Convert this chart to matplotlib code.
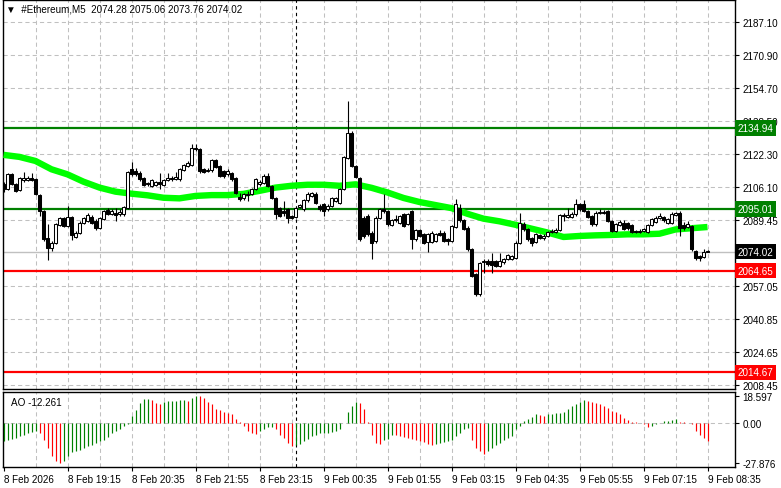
import matplotlib.pyplot as plt
import numpy as np
from matplotlib.transforms import blended_transform_factory

# M5 candles, 8 Feb 17:55 -> 9 Feb 08:35
opens = [2107.5, 2104.7, 2112.1, 2107.5, 2104.4, 2109.2, 2109.4, 2110.5, 2109.7, 2102.0,
         2094.1, 2080.6, 2075.7, 2078.5, 2087.2, 2090.5, 2086.7, 2091.3, 2081.4, 2083.4,
         2088.3, 2089.2, 2091.3, 2089.2, 2085.9, 2090.0, 2094.6, 2092.8, 2093.3, 2092.8,
         2092.4, 2095.7, 2114.9, 2113.8, 2113.0, 2110.2, 2107.9, 2106.4, 2106.9, 2108.5,
         2106.9, 2109.2, 2110.5, 2109.7, 2109.7, 2114.3, 2116.2, 2116.7, 2125.3, 2124.5,
         2114.6, 2113.8, 2114.1, 2119.0, 2116.2, 2113.8, 2112.1, 2112.6, 2110.2, 2101.1,
         2100.3, 2101.8, 2102.3, 2104.8, 2107.2, 2108.0, 2111.3, 2106.4, 2100.6, 2095.7,
         2094.1, 2094.9, 2091.6, 2091.1, 2096.0, 2094.9, 2099.3, 2101.5, 2102.6, 2096.5,
         2097.3, 2094.9, 2096.5, 2099.0, 2098.2, 2104.8, 2120.3, 2132.7, 2116.2, 2110.5,
         2090.8, 2091.6, 2083.4, 2079.3, 2090.5, 2094.9, 2094.1, 2087.2, 2089.5, 2088.3,
         2092.4, 2087.5, 2094.1, 2080.1, 2084.6, 2082.6, 2078.8, 2079.0, 2079.3, 2083.4,
         2083.4, 2080.1, 2079.3, 2086.2, 2095.7, 2089.5, 2085.9, 2075.2, 2062.9, 2053.0,
         2068.8, 2069.5, 2069.5, 2069.5, 2067.0, 2068.9, 2070.6, 2070.3, 2071.1, 2078.5,
         2087.8, 2085.0, 2081.0, 2078.8, 2082.1, 2081.0, 2081.8, 2083.7, 2083.8, 2084.6,
         2092.1, 2091.0, 2091.1, 2092.4, 2097.3, 2097.3, 2094.1, 2091.6, 2087.5, 2093.3,
         2093.8, 2094.1, 2089.2, 2084.2, 2087.2, 2088.3, 2088.3, 2087.2, 2084.2, 2083.9,
         2084.3, 2083.9, 2087.2, 2088.8, 2090.8, 2091.1, 2088.3, 2088.3, 2092.1, 2093.3,
         2087.2, 2086.1, 2086.7, 2074.4, 2071.9, 2071.4, 2074.28]
highs = [2108.5, 2112.8, 2112.8, 2108.0, 2110.8, 2113.4, 2111.2, 2113.0, 2110.3, 2102.5,
         2094.5, 2087.5, 2079.2, 2088.2, 2091.2, 2091.0, 2096.5, 2091.8, 2084.0, 2089.0,
         2091.0, 2093.0, 2092.0, 2090.0, 2091.0, 2094.8, 2095.5, 2095.0, 2095.7, 2095.2,
         2096.6, 2114.0, 2118.2, 2115.4, 2113.6, 2110.8, 2108.5, 2110.0, 2109.0, 2113.0,
         2110.0, 2113.0, 2111.5, 2113.4, 2115.2, 2117.2, 2118.5, 2127.0, 2127.0, 2125.0,
         2115.2, 2115.0, 2119.6, 2119.6, 2116.7, 2114.3, 2114.6, 2113.2, 2110.8, 2103.0,
         2103.0, 2104.0, 2105.4, 2110.2, 2109.5, 2112.5, 2113.0, 2107.0, 2101.0, 2096.2,
         2099.0, 2095.5, 2092.2, 2096.2, 2097.6, 2100.0, 2103.6, 2103.6, 2103.2, 2097.3,
         2097.8, 2097.3, 2101.0, 2101.0, 2105.4, 2121.3, 2148.3, 2133.3, 2116.8, 2111.0,
         2091.6, 2092.4, 2084.0, 2091.6, 2095.5, 2102.3, 2094.8, 2090.0, 2092.0, 2092.2,
         2093.0, 2093.0, 2094.6, 2085.2, 2085.2, 2083.2, 2083.2, 2084.0, 2083.4, 2084.5,
         2084.0, 2080.8, 2087.3, 2099.8, 2097.5, 2090.0, 2086.5, 2075.8, 2063.5, 2069.2,
         2070.6, 2070.5, 2073.5, 2070.2, 2073.5, 2071.2, 2073.0, 2072.5, 2079.1, 2093.3,
         2088.8, 2085.6, 2081.5, 2083.2, 2082.8, 2082.6, 2084.3, 2085.2, 2085.8, 2092.7,
         2093.0, 2095.7, 2093.4, 2099.8, 2098.2, 2099.3, 2094.7, 2092.2, 2093.9, 2095.0,
         2094.6, 2094.7, 2089.8, 2088.1, 2089.5, 2089.5, 2088.9, 2087.8, 2084.8, 2085.0,
         2085.6, 2087.8, 2090.6, 2091.4, 2093.3, 2091.7, 2090.5, 2093.4, 2093.8, 2093.9,
         2088.8, 2089.2, 2087.3, 2075.0, 2072.5, 2075.5, 2075.06]
lows = [2103.5, 2104.2, 2106.8, 2103.3, 2103.8, 2108.5, 2108.8, 2108.6, 2102.0, 2091.6,
        2079.3, 2069.9, 2074.4, 2078.0, 2086.6, 2086.2, 2086.0, 2079.8, 2080.8, 2082.8,
        2087.8, 2088.6, 2087.6, 2084.5, 2085.3, 2089.5, 2092.0, 2092.0, 2089.2, 2091.8,
        2091.8, 2095.2, 2111.5, 2111.5, 2109.0, 2106.3, 2106.5, 2105.8, 2106.3, 2104.8,
        2106.3, 2108.6, 2109.0, 2109.2, 2109.0, 2113.8, 2115.6, 2116.2, 2123.8, 2113.0,
        2112.8, 2113.3, 2113.5, 2115.2, 2110.7, 2110.5, 2111.5, 2109.0, 2102.5, 2098.8,
        2099.5, 2099.0, 2101.8, 2104.2, 2106.5, 2107.5, 2105.8, 2100.0, 2089.9, 2091.0,
        2091.6, 2088.3, 2089.9, 2090.5, 2095.5, 2094.3, 2098.7, 2100.9, 2097.6, 2094.3,
        2091.6, 2094.3, 2096.0, 2098.4, 2097.6, 2104.2, 2119.7, 2115.6, 2110.2, 2079.5,
        2081.0, 2082.0, 2070.3, 2078.5, 2090.0, 2093.0, 2086.9, 2086.6, 2088.5, 2087.7,
        2086.0, 2087.0, 2075.2, 2079.5, 2081.2, 2077.9, 2073.9, 2078.4, 2078.7, 2081.6,
        2078.7, 2077.5, 2078.7, 2085.6, 2088.9, 2084.5, 2074.6, 2061.4, 2052.3, 2052.3,
        2063.7, 2067.0, 2063.7, 2066.3, 2066.4, 2068.2, 2070.0, 2069.8, 2070.5, 2078.0,
        2084.4, 2079.5, 2077.0, 2078.2, 2080.2, 2080.0, 2081.2, 2083.1, 2083.2, 2084.0,
        2089.0, 2090.4, 2090.5, 2091.8, 2094.3, 2093.5, 2090.5, 2086.9, 2086.9, 2092.5,
        2092.7, 2088.6, 2083.6, 2083.6, 2086.6, 2084.5, 2084.9, 2083.3, 2083.2, 2083.3,
        2083.7, 2083.3, 2086.6, 2088.2, 2090.2, 2088.9, 2087.7, 2087.7, 2091.5, 2081.8,
        2084.9, 2085.5, 2074.6, 2069.8, 2069.5, 2070.8, 2073.76]
closes = [2105.0, 2112.1, 2107.5, 2103.9, 2110.2, 2110.5, 2110.5, 2109.2, 2102.6, 2094.1,
          2080.1, 2075.7, 2078.5, 2087.5, 2090.5, 2086.7, 2091.3, 2082.3, 2083.4, 2088.3,
          2090.5, 2091.9, 2088.3, 2085.9, 2090.5, 2094.1, 2092.8, 2094.1, 2092.1, 2093.6,
          2096.0, 2113.4, 2112.1, 2112.1, 2109.7, 2106.9, 2107.2, 2109.2, 2108.5, 2107.2,
          2109.2, 2110.5, 2109.7, 2110.8, 2114.6, 2116.7, 2117.9, 2125.3, 2124.5, 2113.8,
          2113.5, 2114.4, 2119.0, 2115.8, 2111.3, 2111.3, 2113.6, 2109.7, 2103.1, 2099.8,
          2102.3, 2102.3, 2104.8, 2109.7, 2108.5, 2111.3, 2106.4, 2100.6, 2092.4, 2091.6,
          2093.0, 2090.8, 2090.5, 2095.7, 2097.0, 2099.3, 2102.3, 2102.9, 2098.2, 2094.9,
          2094.1, 2096.5, 2100.3, 2100.3, 2104.8, 2120.7, 2132.7, 2116.2, 2110.8, 2080.1,
          2081.8, 2082.6, 2078.5, 2090.8, 2094.9, 2094.1, 2087.5, 2089.5, 2090.0, 2091.6,
          2086.7, 2092.4, 2080.1, 2084.6, 2081.8, 2078.5, 2082.6, 2083.4, 2082.6, 2082.3,
          2079.3, 2079.3, 2086.7, 2097.3, 2089.5, 2085.1, 2075.2, 2062.0, 2053.0, 2068.6,
          2069.3, 2068.0, 2067.3, 2067.0, 2069.5, 2070.6, 2072.2, 2071.9, 2078.5, 2088.3,
          2085.0, 2080.1, 2078.5, 2082.6, 2081.0, 2081.6, 2083.7, 2084.4, 2084.7, 2092.1,
          2091.4, 2091.9, 2092.8, 2097.3, 2094.9, 2094.1, 2091.1, 2087.5, 2093.3, 2093.8,
          2093.3, 2089.2, 2084.2, 2087.5, 2088.9, 2085.1, 2085.5, 2083.9, 2083.8, 2084.4,
          2085.0, 2087.2, 2090.0, 2090.8, 2091.4, 2089.5, 2089.9, 2092.8, 2093.3, 2085.9,
          2085.5, 2087.7, 2075.2, 2071.1, 2071.1, 2074.0, 2074.02]

# moving average (read every 4 bars)
ma_bars = [0, 4, 8, 12, 16, 20, 24, 28, 32, 36, 40, 44, 48, 52, 56, 60, 64, 68, 72, 76, 80, 84,
           88, 92, 96, 100, 104, 108, 112, 116, 120, 124, 128, 132, 136, 140, 144, 148, 152,
           156, 160, 164, 168, 172, 176]
ma_vals = [2121.7, 2120.7, 2118.7, 2114.6, 2112.1, 2108.5, 2105.6, 2103.6, 2102.6, 2101.8,
           2100.6, 2100.3, 2101.5, 2101.9, 2101.9, 2102.5, 2104.0, 2105.6, 2106.5, 2107.0,
           2107.0, 2106.5, 2107.2, 2105.5, 2103.2, 2100.5, 2098.5, 2097.0, 2095.5, 2092.7,
           2090.3, 2089.0, 2087.3, 2085.4, 2083.5, 2081.3, 2081.8, 2082.1, 2082.3, 2082.6,
           2082.6, 2082.9, 2085.0, 2085.6, 2086.2]

# Awesome Oscillator
ao = [-12.8, -11.6, -11.2, -10.5, -9.3, -8.1, -7.0, -6.3, -5.8, -7.0,
      -11.6, -17.4, -23.2, -26.5, -27.876, -26.7, -23.2, -20.5, -19.5, -18.5,
      -17.4, -16.3, -15.1, -13.9, -12.8, -11.6, -10.0, -7.4, -5.8, -4.2,
      -2.3, -1.0, 4.6, 8.6, 13.9, 16.3, 16.7, 15.6, 13.7, 13.2,
      14.6, 14.9, 15.1, 15.3, 15.6, 15.8, 15.3, 16.9, 18.597, 18.2,
      16.9, 14.4, 12.8, 9.3, 8.8, 7.7, 7.0, 5.8, 2.3, 0.5,
      -2.3, -5.8, -7.0, -7.7, -5.8, -4.2, -3.0, -2.8, -4.6, -8.1,
      -10.5, -14.0, -16.3, -15.1, -14.4, -12.8, -11.2, -9.3, -8.1, -7.4,
      -7.0, -6.9, -6.5, -5.8, -4.2, -0.5, 7.4, 11.6, 14.6, 13.5,
      9.3, 0.5, -8.1, -14.0, -14.6, -12.1, -11.2, -8.1, -8.5, -9.3,
      -10.0, -10.5, -11.0, -11.6, -12.8, -13.5, -14.6, -15.1, -14.4, -14.0,
      -13.5, -12.8, -11.6, -9.3, -7.0, -4.6, -3.5, -11.6, -17.4, -19.8,
      -21.4, -19.8, -17.4, -15.1, -13.9, -12.1, -10.5, -8.8, -4.6, -2.3,
      0.9, 2.3, 4.2, 5.8, 5.3, 4.9, 5.8, 6.3, 6.7, 7.0,
      7.7, 9.3, 11.6, 13.2, 14.4, 15.6, 15.1, 14.6, 13.9, 12.8,
      11.6, 10.5, 8.1, 7.4, 5.8, 3.5, 1.9, 0.7, 0.5, 0.0,
      -1.2, -3.0, -2.3, -1.2, -0.2, 0.9, 1.2, 1.9, 2.3, 0.5,
      0.2, -0.3, -1.2, -5.8, -8.1, -10.5, -12.261]

green_levels = [2134.94, 2095.01]
red_levels = [2064.65, 2014.67]
last_price = 2074.02

price_ticks = [2187.10, 2170.90, 2154.70, 2138.50, 2122.30, 2106.10, 2089.45,
               2057.05, 2040.85, 2024.65, 2008.45]
ao_ticks = [18.597, 0.0, -27.876]
ao_tick_labels = ['18.597', '0.00', '-27.876']
time_bars = [0, 16, 32, 48, 64, 80, 96, 112, 128, 144, 160, 176]
time_labels = ['8 Feb 2026', '8 Feb 19:15', '8 Feb 20:35', '8 Feb 21:55', '8 Feb 23:15',
               '9 Feb 00:35', '9 Feb 01:55', '9 Feb 03:15', '9 Feb 04:35', '9 Feb 05:55',
               '9 Feb 07:15', '9 Feb 08:35']
day_sep = 73

plt.rcParams['font.family'] = ['Liberation Sans', 'DejaVu Sans']
W, H = 781, 489
fig = plt.figure(figsize=(W / 100, H / 100), dpi=100)
ax = fig.add_axes([3 / W, 1 - 390 / H, 732 / W, 389 / H])
ax2 = fig.add_axes([3 / W, 1 - 468 / H, 732 / W, 75 / H])

fs = 7.1
grid_kw = dict(color='#c0c0c0', lw=0.75, ls=(0, (4, 3)), zorder=0)
xlim = (-0.125, 182.875)
for a in (ax, ax2):
    a.set_xlim(*xlim)
    for s in a.spines.values():
        s.set_linewidth(1.0)
        s.set_color('black')
    for gx in range(8, 183, 8):
        a.axvline(gx, **grid_kw)
    a.axvline(day_sep, color='black', lw=0.8, ls=(0, (3, 3)), zorder=1)
    a.yaxis.tick_right()
    a.tick_params(axis='y', length=3, width=0.8, pad=2.5, labelsize=fs)

ax.set_ylim(2006.5, 2197.9)
ax.set_yticks(price_ticks)
ax.set_yticklabels(['%.2f' % p for p in price_ticks])
for p in price_ticks:
    ax.axhline(p, **grid_kw)
ax.set_xticks([])

# levels
for lv in green_levels:
    ax.axhline(lv, color='#008000', lw=1.6, zorder=2)
for lv in red_levels:
    ax.axhline(lv, color='#ff0000', lw=1.6, zorder=2)
ax.axhline(last_price, color='#c0c0c0', lw=1.0, zorder=1)

ax.plot(ma_bars, ma_vals, color='#00ff00', lw=4.6, solid_capstyle='butt', zorder=3)

# candles
idx = np.arange(len(opens))
o = np.array(opens)
c = np.array(closes)
ax.vlines(idx, lows, highs, color='black', lw=0.8, zorder=4)
bot = np.minimum(o, c)
hgt = np.maximum(np.abs(c - o), 0.35)
up = c >= o
ax.bar(idx[up], hgt[up], bottom=bot[up], width=0.62, facecolor='white', edgecolor='black',
       lw=0.75, zorder=5)
ax.bar(idx[~up], hgt[~up], bottom=bot[~up], width=0.62, facecolor='black', edgecolor='black',
       lw=0.75, zorder=5)

# price boxes on the axis
tr = blended_transform_factory(ax.transAxes, ax.transData)
boxes = [(green_levels[0], '#008000', 'white'), (green_levels[1], '#008000', 'white'),
         (last_price, 'black', 'white'), (red_levels[0], '#ff0000', 'white'),
         (red_levels[1], '#ff0000', 'white')]
for val, bg, fg in boxes:
    ax.text(1.004, val, '%.2f' % val, transform=tr, ha='left', va='center', fontsize=fs,
            color=fg, bbox=dict(facecolor=bg, edgecolor='none', pad=1.9), clip_on=False,
            zorder=10)

fig.text(6 / W, 1 - 10 / H, '\u25bc  #Ethereum,M5  2074.28 2075.06 2073.76 2074.02',
         fontsize=fs, va='center', ha='left')

# AO pane
ax2.set_ylim(-30.5, 21.2)
ao_arr = np.array(ao)
ao_col = ['#008000'] + ['#008000' if ao_arr[k] > ao_arr[k - 1] else '#ff0000'
                        for k in range(1, len(ao_arr))]
ax2.axhline(0, **grid_kw)
ax2.vlines(idx, 0, ao_arr, colors=ao_col, lw=0.85, zorder=3)
ax2.set_yticks(ao_ticks)
ax2.set_yticklabels(ao_tick_labels)
ax2.text(8 / 732, 0.87, 'AO -12.261', transform=ax2.transAxes, fontsize=fs, va='center',
         ha='left')
ax2.set_xticks(time_bars)
ax2.set_xticklabels(time_labels, fontsize=fs, ha='left')
ax2.tick_params(axis='x', length=3, width=0.8, pad=2)

fig.savefig('out.png', dpi=100, facecolor='white')
